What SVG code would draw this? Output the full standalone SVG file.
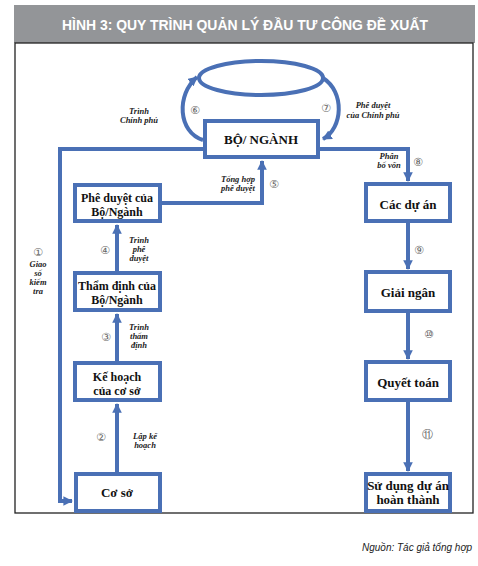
<svg xmlns="http://www.w3.org/2000/svg" width="478" height="566" viewBox="0 0 478 566">
<style>
.box{fill:#fff;stroke:#4a70b5;stroke-width:4}
.con{fill:none;stroke:#4a70b5;stroke-width:4}
.bt{font-family:"Liberation Serif",serif;font-weight:bold;font-size:13px;fill:#111;text-anchor:middle}
.b2{font-size:12px}
.lb{font-family:"Liberation Serif",serif;font-weight:bold;font-style:italic;font-size:8.5px;fill:#222;text-anchor:middle}
.num{font-family:"DejaVu Sans",sans-serif;font-size:11px;fill:#666;text-anchor:middle}
</style>
<defs>
<marker id="ah" viewBox="0 0 10 10" refX="9" refY="5" markerWidth="2.4" markerHeight="2.4" orient="auto" markerUnits="strokeWidth">
<path d="M0,0 L10,5 L0,10 z" fill="#4a70b5"/>
</marker>
</defs>
<rect x="0" y="0" width="478" height="566" fill="#fff"/>
<rect x="14" y="5" width="461" height="38" fill="#939598"/>
<text x="245" y="30" font-family="Liberation Sans,sans-serif" font-weight="bold" font-size="15" fill="#fff" text-anchor="middle" textLength="366" lengthAdjust="spacingAndGlyphs">HÌNH 3: QUY TRÌNH QUẢN LÝ ĐẦU TƯ CÔNG ĐỀ XUẤT</text>
<rect x="15" y="43" width="458" height="470" fill="none" stroke="#222" stroke-width="1.3"/>

<g id="connectors">
<path class="con" d="M203,140 C178,132 176,95 197,77" marker-end="url(#ah)"/>
<path class="con" d="M323,78 C345,92 343,128 323,139" marker-end="url(#ah)"/>
<path class="con" d="M205,149 H60 V501 H72" marker-end="url(#ah)"/>
<path class="con" d="M318,149 H408 V181" marker-end="url(#ah)"/>
<path class="con" d="M160,203 H262 V161" marker-end="url(#ah)"/>
<path class="con" d="M117,271 V225" marker-end="url(#ah)"/>
<path class="con" d="M117,361 V314" marker-end="url(#ah)"/>
<path class="con" d="M117,472 V404" marker-end="url(#ah)"/>
<path class="con" d="M408,223 V269" marker-end="url(#ah)"/>
<path class="con" d="M408,313 V359" marker-end="url(#ah)"/>
<path class="con" d="M408,402 V471" marker-end="url(#ah)"/>
</g>

<g id="ellipse"><ellipse cx="261" cy="78" rx="62" ry="17" class="con" stroke-width="3"/></g>

<g id="bo-nganh"><rect class="box" x="205" y="121" width="113" height="36"/><text class="bt" x="261" y="144" font-size="16">BỘ/ NGÀNH</text></g>
<g id="phe-duyet-bo"><rect class="box" x="75" y="185" width="85" height="36"/><text class="bt b2" x="117" y="202">Phê duyệt của</text><text class="bt b2" x="117" y="216">Bộ/Ngành</text></g>
<g id="tham-dinh"><rect class="box" x="75" y="273" width="85" height="37"/><text class="bt b2" x="117" y="290">Thẩm định của</text><text class="bt b2" x="117" y="304">Bộ/Ngành</text></g>
<g id="ke-hoach"><rect class="box" x="75" y="363" width="85" height="37"/><text class="bt b2" x="117" y="381">Kế hoạch</text><text class="bt b2" x="117" y="395">của cơ sở</text></g>
<g id="co-so"><rect class="box" x="76" y="474" width="84" height="37"/><text class="bt" x="117" y="497">Cơ sở</text></g>
<g id="cac-du-an"><rect class="box" x="366" y="184" width="84" height="37"/><text class="bt" x="408" y="209">Các dự án</text></g>
<g id="giai-ngan"><rect class="box" x="366" y="272" width="84" height="39"/><text class="bt" x="408" y="297">Giải ngân</text></g>
<g id="quyet-toan"><rect class="box" x="366" y="362" width="84" height="38"/><text class="bt" x="408" y="387">Quyết toán</text></g>
<g id="su-dung"><rect class="box" x="366" y="474" width="84" height="37"/><text class="bt" x="408" y="490" font-size="11.5">Sử dụng dự án</text><text class="bt" x="408" y="504" font-size="11.5">hoàn thành</text></g>

<g id="labels">
<text class="lb" x="139" y="114">Trình</text><text class="lb" x="139" y="123">Chính phủ</text>
<text class="num" x="195" y="114">⑥</text>
<text class="num" x="326" y="112">⑦</text>
<text class="lb" x="373" y="108">Phê duyệt</text><text class="lb" x="373" y="118">của Chính phủ</text>
<text class="lb" x="389" y="159">Phân</text><text class="lb" x="389" y="168">bổ vốn</text>
<text class="num" x="418" y="166">⑧</text>
<text class="lb" x="238" y="182">Tổng hợp</text><text class="lb" x="238" y="191">phê duyệt</text>
<text class="num" x="274" y="188">⑤</text>
<text class="num" x="105" y="254">④</text>
<text class="lb" x="139" y="243">Trình</text><text class="lb" x="139" y="252">phê</text><text class="lb" x="139" y="261">duyệt</text>
<text class="num" x="106" y="341">③</text>
<text class="lb" x="139" y="330">Trình</text><text class="lb" x="139" y="339">thẩm</text><text class="lb" x="139" y="348">định</text>
<text class="num" x="101" y="441">②</text>
<text class="lb" x="145" y="439">Lập kế</text><text class="lb" x="145" y="448">hoạch</text>
<text class="num" x="38" y="256" font-size="10">①</text>
<text class="lb" x="38" y="267">Giao</text><text class="lb" x="38" y="276">sổ</text><text class="lb" x="38" y="285">kiểm</text><text class="lb" x="38" y="294">tra</text>
<text class="num" x="419" y="254">⑨</text>
<text class="num" x="429" y="338">⑩</text>
<text class="num" x="427" y="438">⑪</text>
</g>
<text x="472" y="551" font-family="Liberation Sans,sans-serif" font-style="italic" font-size="10" fill="#222" text-anchor="end">Nguồn: Tác giả tổng hợp</text>
</svg>
